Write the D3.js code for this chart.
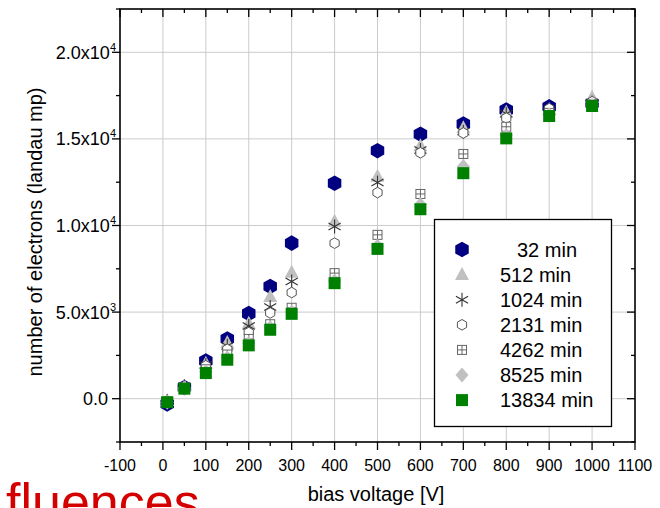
<!DOCTYPE html>
<html>
<head>
<meta charset="utf-8">
<script src="https://cdn.jsdelivr.net/npm/d3@7"></script>
<style>
  body { margin: 0; background: #fff; }
  svg { display: block; font-family: "Liberation Sans", Arial, sans-serif; }
</style>
</head>
<body>
<div id="chart"></div>
<script>
const voltage = [10, 50, 100, 150, 200, 250, 300, 400, 500, 600, 700, 800, 900, 1000];
const min32    = [-300, 650, 2180, 3450, 4920, 6480, 8980, 12440, 14320, 15270, 15860, 16670, 16850, 17050];
const min512   = [-100, 720, 2050, 3250, 4350, 5900, 7300, 10250, 12850, 14600, 15650, 16550, 16700, 17400];
const min1024  = [-150, 720, 1950, 3050, 4200, 5300, 6770, 9940, 12480, 14360, 15420, 16450, 16600, 17100];
const min2131  = [-150, 680, 1900, 2850, 3820, 4950, 6130, 8980, 11900, 14200, 15340, 16200, 16750, 17150];
const min4262  = [-200, 650, 1700, 2550, 3450, 4300, 5250, 7250, 9460, 11820, 14130, 15700, 16500, 17000];
const min8525  = [-200, 600, 1550, 2350, 3200, 4100, 5000, 6800, 8800, 11200, 13400, 15200, 16400, 16950];
const min13834 = [-200, 580, 1480, 2250, 3080, 3980, 4900, 6670, 8650, 10940, 13020, 15030, 16320, 16900];

const seriesLabels = ["32 min", "512 min", "1024 min", "2131 min", "4262 min", "8525 min", "13834 min"];
const seriesValues = [min32, min512, min1024, min2131, min4262, min8525, min13834];
const seriesMarkers = ["hexFill", "triangle", "asterisk", "hexOpen", "boxPlus", "diamond", "square"];

const xTicks = d3.range(-100, 1101, 100);
const yTicks = [0, 5000, 10000, 15000, 20000];
const yTickLabels = [["0.0", ""], ["5.0x10", "3"], ["1.0x10", "4"], ["1.5x10", "4"], ["2.0x10", "4"]];

const width = 660, height = 508;
const plotLeft = 120, plotRight = 635, plotTop = 9, plotBottom = 442;

const svg = d3.select("#chart").append("svg")
    .attr("width", width)
    .attr("height", height);

const x = d3.scaleLinear().domain([-100, 1100]).range([plotLeft, plotRight]);
const y = d3.scaleLinear().domain([-2500, 22500]).range([plotBottom, plotTop]);

// grid
svg.append("g")
    .selectAll("line")
    .data(d3.range(0, 1001, 100))
    .join("line")
    .attr("x1", d => x(d)).attr("x2", d => x(d))
    .attr("y1", plotTop).attr("y2", plotBottom)
    .attr("stroke", "#cbcbcb");

svg.append("g")
    .selectAll("line")
    .data(yTicks)
    .join("line")
    .attr("y1", d => y(d)).attr("y2", d => y(d))
    .attr("x1", plotLeft).attr("x2", plotRight)
    .attr("stroke", "#cbcbcb");

// axes
const xMinor = d3.range(-100, 1101, 50);
const yMinor = d3.range(-2500, 22501, 2500);
const isMajorX = d => d % 100 === 0;
const isMajorY = d => d % 5000 === 0;

const axisG = svg.append("g").attr("stroke", "#000").attr("stroke-width", 1.3);

axisG.append("g").selectAll("line").data(xMinor).join("line")
    .attr("x1", d => x(d)).attr("x2", d => x(d))
    .attr("y1", plotBottom).attr("y2", d => plotBottom + (isMajorX(d) ? 8 : 4));
axisG.append("g").selectAll("line").data(xMinor).join("line")
    .attr("x1", d => x(d)).attr("x2", d => x(d))
    .attr("y1", plotTop).attr("y2", d => plotTop + (isMajorX(d) ? 8 : 4));
axisG.append("g").selectAll("line").data(yMinor).join("line")
    .attr("y1", d => y(d)).attr("y2", d => y(d))
    .attr("x1", plotLeft).attr("x2", d => plotLeft - (isMajorY(d) ? 8 : 4));
axisG.append("g").selectAll("line").data(yMinor).join("line")
    .attr("y1", d => y(d)).attr("y2", d => y(d))
    .attr("x1", plotRight).attr("x2", d => plotRight - (isMajorY(d) ? 8 : 4));

svg.append("rect")
    .attr("x", plotLeft).attr("y", plotTop)
    .attr("width", plotRight - plotLeft).attr("height", plotBottom - plotTop)
    .attr("fill", "none")
    .attr("stroke", "#000")
    .attr("stroke-width", 1.6);

// tick labels
svg.append("g")
    .attr("font-size", 16)
    .attr("text-anchor", "middle")
    .selectAll("text")
    .data(xTicks)
    .join("text")
    .attr("x", d => x(d))
    .attr("y", 471)
    .text(d => d);

const yLab = svg.append("g")
    .attr("font-size", 18)
    .attr("text-anchor", "end")
    .selectAll("text")
    .data(yTicks)
    .join("text")
    .attr("x", (d, i) => yTickLabels[i][1] ? 116 : 108)
    .attr("y", d => y(d) + 6.5);
yLab.append("tspan").text((d, i) => yTickLabels[i][0]);
yLab.append("tspan")
    .attr("font-size", 11)
    .attr("dy", -8)
    .text((d, i) => yTickLabels[i][1]);

// axis titles
svg.append("text")
    .attr("x", 376).attr("y", 501)
    .attr("text-anchor", "middle")
    .attr("font-size", 20)
    .text("bias voltage [V]");

svg.append("text")
    .attr("transform", "translate(42,232) rotate(-90)")
    .attr("text-anchor", "middle")
    .attr("font-size", 20)
    .text("number of electrons (landau mp)");

svg.append("text")
    .attr("x", 6).attr("y", 520)
    .attr("font-size", 52)
    .attr("fill", "#d40000")
    .text("fluences");

// markers
function hexPath(r) {
    const pts = d3.range(6).map(i => {
        const a = Math.PI / 180 * (60 * i - 90);
        return [r * Math.cos(a), r * Math.sin(a)];
    });
    return "M" + pts.join("L") + "Z";
}

function drawMarker(g, type) {
    if (type === "hexFill") {
        g.append("path").attr("d", hexPath(7.8)).attr("fill", "#000080");
    } else if (type === "triangle") {
        g.append("path").attr("d", "M0,-7.5L7,5.5L-7,5.5Z").attr("fill", "#c0c0c0");
    } else if (type === "asterisk") {
        const s = 7;
        [90, 30, 150].forEach(a => {
            const r = a * Math.PI / 180;
            g.append("line")
                .attr("x1", -s * Math.cos(r)).attr("y1", -s * Math.sin(r))
                .attr("x2", s * Math.cos(r)).attr("y2", s * Math.sin(r))
                .attr("stroke", "#333").attr("stroke-width", 1.1);
        });
    } else if (type === "hexOpen") {
        g.append("path").attr("d", hexPath(5.3))
            .attr("fill", "#fff").attr("stroke", "#555").attr("stroke-width", 1);
    } else if (type === "boxPlus") {
        g.append("rect").attr("x", -4.5).attr("y", -4.5).attr("width", 9).attr("height", 9)
            .attr("fill", "#fff").attr("stroke", "#666").attr("stroke-width", 1);
        g.append("path").attr("d", "M0,-4.5V4.5M-4.5,0H4.5")
            .attr("stroke", "#666").attr("stroke-width", 1);
    } else if (type === "diamond") {
        g.append("path").attr("d", "M0,-7.5L6.5,0L0,7.5L-6.5,0Z").attr("fill", "#c0c0c0");
    } else if (type === "square") {
        g.append("rect").attr("x", -6).attr("y", -6).attr("width", 12).attr("height", 12)
            .attr("fill", "#008000");
    }
}

seriesValues.forEach((vals, si) => {
    const pts = voltage.map((v, i) => [v, vals[i]]);
    svg.append("g")
        .selectAll("g")
        .data(pts)
        .join("g")
        .attr("transform", d => `translate(${x(d[0])},${y(d[1])})`)
        .each(function () { drawMarker(d3.select(this), seriesMarkers[si]); });
});

// legend
const legend = svg.append("g");
legend.append("rect")
    .attr("x", 434.5).attr("y", 219.5)
    .attr("width", 177).attr("height", 207)
    .attr("fill", "#fff")
    .attr("stroke", "#000")
    .attr("stroke-width", 1.3);

seriesLabels.forEach((label, i) => {
    const cy = 249.5 + i * 25.1;
    const g = legend.append("g").attr("transform", `translate(462,${cy})`);
    drawMarker(g, seriesMarkers[i]);
    legend.append("text")
        .attr("x", i === 0 ? 517 : 500)
        .attr("y", cy + 7)
        .attr("font-size", 20)
        .text(label);
});
</script>
</body>
</html>
